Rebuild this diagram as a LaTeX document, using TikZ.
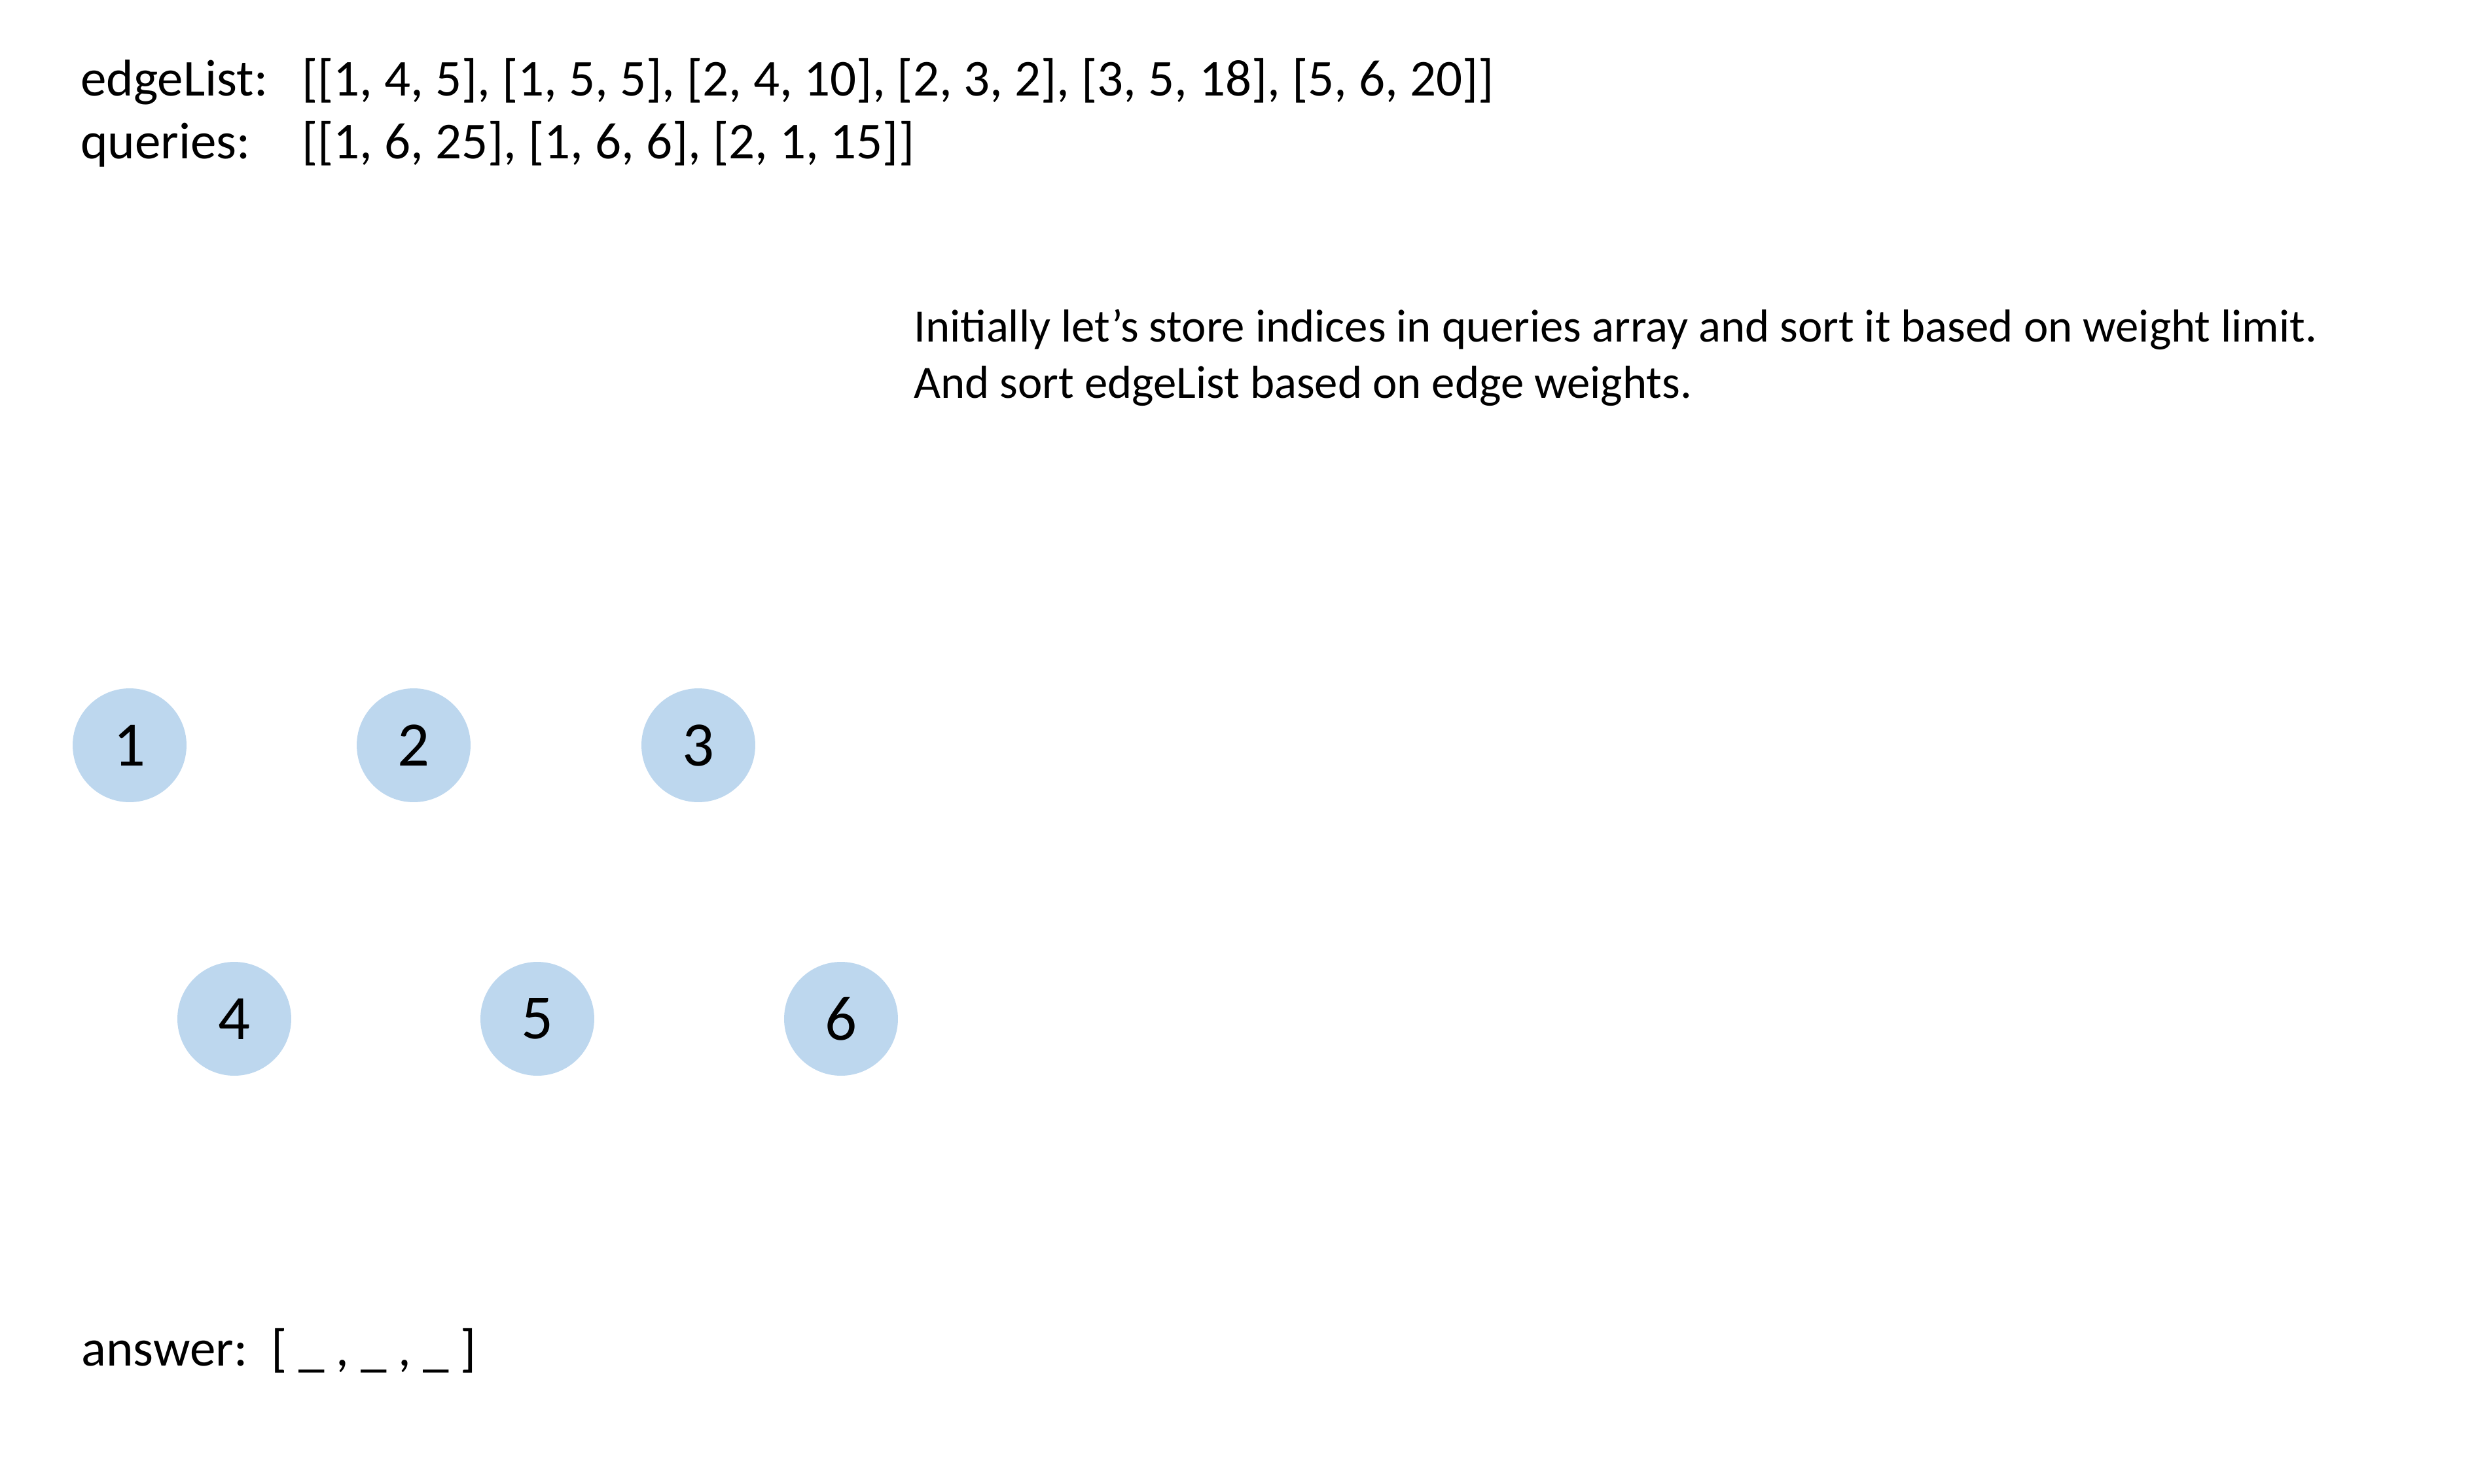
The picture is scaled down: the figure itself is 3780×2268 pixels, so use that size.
\documentclass[tikz,border=0pt]{standalone}
\usepackage{fontspec}
\setmainfont{Carlito}
\definecolor{nodeblue}{HTML}{BDD7EE}
\begin{document}
\begin{tikzpicture}[x=0.02cm,y=-0.02cm,
  vtx/.style={circle,fill=nodeblue,minimum size=3.48cm,inner sep=0pt,font=\fontsize{55}{62}\selectfont},
  txt/.style={anchor=base west,inner sep=0pt,font=\fontsize{45}{52}\selectfont},
  desc/.style={anchor=base west,inner sep=0pt,font=\fontsize{40.3}{48}\selectfont}]
\useasboundingbox (0,0) rectangle (3780,2268);
\node[txt] (el) at (123,147) {edgeList:};
\node[txt] (ell) at (461,147) {[[1, 4, 5], [1, 5, 5], [2, 4, 10], [2, 3, 2], [3, 5, 18], [5, 6, 20]]};
\node[txt] (q) at (123,242) {queries:};
\node[txt] (ql) at (461,242) {[[1, 6, 25], [1, 6, 6], [2, 1, 15]]};
\node[desc] (d1) at (1396,522) {Initially let’s store indices in queries array and sort it based on weight limit.};
\node[desc] (d2) at (1396,608) {And sort edgeList based on edge weights.};
\node[vtx] (n1) at (198,1139) {1};
\node[vtx] (n2) at (632,1139) {2};
\node[vtx] (n3) at (1067,1139) {3};
\node[vtx] (n4) at (358,1557) {4};
\node[vtx] (n5) at (821,1557) {5};
\node[vtx] (n6) at (1285,1557) {6};
\node[txt] (ans) at (124,2087) {answer:};
\node[txt] (ansl) at (414,2087) {[ \_ , \_ , \_ ]};
\end{tikzpicture}
\end{document}
